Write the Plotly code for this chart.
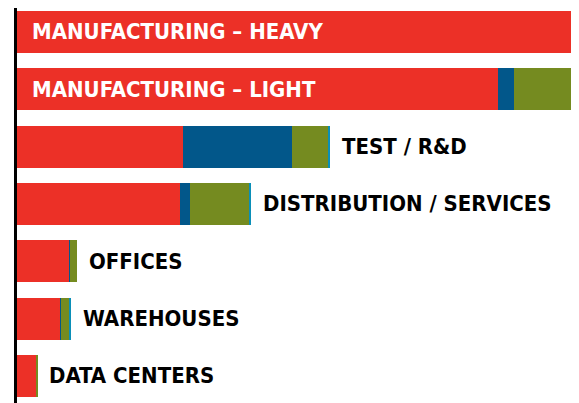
import plotly.graph_objects as go

categories = ["MANUFACTURING – HEAVY", "MANUFACTURING – LIGHT", "TEST / R&D",
              "DISTRIBUTION / SERVICES", "OFFICES", "WAREHOUSES", "DATA CENTERS"]
series_names = ["Segment A", "Segment B", "Segment C", "Segment D"]
seg_a = [110.0, 85.6, 29.5, 29.0, 9.3, 7.7, 3.4]
seg_b = [0.0, 2.8, 19.4, 1.8, 0.2, 0.15, 0.0]
seg_c = [0.0, 14.0, 6.6, 10.5, 1.1, 1.5, 0.2]
seg_d = [0.0, 0.3, 0.2, 0.3, 0.0, 0.2, 0.0]

colors = ["#EC3027", "#02578A", "#758B20", "#0A8FB8"]
FONT = "DejaVu Sans Condensed, Liberation Sans Narrow, sans-serif"

fig = go.Figure()
for name, vals, col in zip(series_names, [seg_a, seg_b, seg_c, seg_d], colors):
    fig.add_trace(go.Bar(y=categories, x=vals, orientation="h", name=name,
                         marker=dict(color=col, line=dict(width=0)),
                         hoverinfo="x+y"))

totals = [a + b + c + d for a, b, c, d in zip(seg_a, seg_b, seg_c, seg_d)]
for cat, tot in zip(categories, totals):
    inside = tot > 60
    fig.add_annotation(
        x=0 if inside else tot, y=cat, xref="x", yref="y",
        text=cat, showarrow=False, xanchor="left", yanchor="middle",
        xshift=13 if inside else 10, yshift=0,
        font=dict(family=FONT, size=22, weight="bold",
                  color="white" if inside else "black"),
    )

fig.update_layout(
    width=571, height=395,
    margin=dict(l=9, r=0, t=0, b=0),
    barmode="stack", bargap=0.27,
    showlegend=False,
    plot_bgcolor="white", paper_bgcolor="white",
    xaxis=dict(range=[0, 100], visible=False, showgrid=False, zeroline=False),
    yaxis=dict(type="category", range=[6.471, -0.417], showticklabels=False,
               showgrid=False, zeroline=False, showline=True,
               linecolor="black", linewidth=3, ticks=""),
)

fig.write_html("out.html")
